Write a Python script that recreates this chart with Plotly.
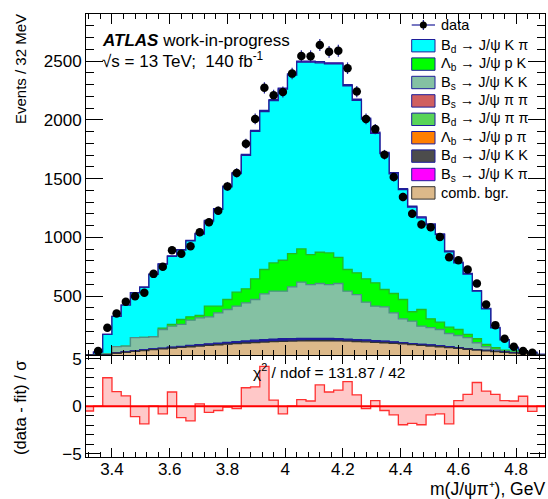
import numpy as np
import plotly.graph_objects as go

# ---- binning: 32 MeV bins ----
BIN_LO = 3.304
BIN_W = 0.032
N_BINS = 50

# ---- data (events per bin) ----
data_counts = [0, 33, 232, 353, 452, 500, 529, 690, 750, 891,
               862, 924, 1043, 1128, 1227, 1434, 1548, 1796, 2008, 2272,
               2209, 2237, 2393, 2542, 2540, 2637, 2578, 2588, 2439, 2240,
               2008, 1921, 1703, 1514, 1344, 1202, 1109, 1086, 1004, 831,
               806, 727, 608, 430, 254, 138, 70, 33, 20, 0]

# ---- fit components (events per bin), stacked bottom -> top ----
comb_bgr = [0, 0, 0, 15, 22, 30, 38, 45, 52, 58,
            64, 70, 76, 82, 87, 92, 97, 102, 106, 110,
            113, 116, 118, 120, 121, 121, 121, 120, 118, 115,
            112, 108, 104, 99, 94, 88, 82, 76, 70, 63,
            56, 49, 42, 35, 28, 22, 16, 11, 6, 0]
bd_kk = [0, 0, 0, 1, 1, 1, 2, 2, 2, 3, 3, 3, 4, 4, 4, 5, 5, 5, 6, 6,
         6, 6, 7, 7, 7, 7, 7, 7, 6, 6, 6, 6, 5, 5, 5, 4, 4, 4, 3, 3,
         3, 2, 2, 2, 1, 1, 1, 0, 0, 0]
lb_ppi = [0, 0, 0, 0, 1, 1, 1, 1, 1, 1, 2, 2, 2, 2, 2, 2, 3, 3, 3, 3,
          3, 4, 4, 4, 4, 4, 4, 4, 3, 3, 3, 3, 3, 3, 2, 2, 2, 2, 2, 2,
          1, 1, 1, 1, 1, 1, 0, 0, 0, 0]
bd_pipi = [0, 0, 0, 1, 1, 1, 1, 2, 2, 2, 2, 3, 3, 3, 3, 4, 4, 4, 5, 5,
           5, 5, 5, 5, 5, 5, 5, 4, 4, 4, 4, 3, 3, 3, 3, 2, 2, 2, 2, 2,
           1, 1, 1, 1, 1, 0, 0, 0, 0, 0]
bs_pipi = [0, 0, 0, 1, 1, 1, 1, 2, 2, 2, 3, 3, 3, 4, 4, 5, 5, 6, 6, 7,
           7, 7, 6, 6, 5, 5, 4, 4, 3, 3, 3, 2, 2, 2, 2, 1, 1, 1, 1, 1,
           1, 0, 0, 0, 0, 0, 0, 0, 0, 0]
bs_kk = [0, 0, 10, 53, 49, 113, 107, 103, 158, 179,
         186, 215, 228, 230, 259, 279, 301, 324, 346, 389,
         409, 405, 440, 477, 457, 466, 458, 469, 409, 383,
         321, 293, 293, 247, 202, 191, 154, 147, 139, 112,
         104, 94, 58, 31, 17, 9, 8, 7, 4, 3]
lb_pk = [0, 0, 0, 0, 0, 0, 0, 0, 11, 15,
         42, 29, 20, 90, 56, 85, 119, 119, 176, 207,
         240, 263, 282, 283, 255, 266, 269, 223, 184, 185,
         199, 199, 147, 164, 164, 80, 142, 76, 62, 54,
         51, 28, 34, 20, 14, 9, 8, 4, 2, 1]
bd_kpi = [3, 25, 165, 257, 349, 381, 426, 530, 544, 578,
          591, 645, 693, 724, 824, 957, 1009, 1134, 1254, 1344,
          1380, 1455, 1518, 1588, 1636, 1611, 1607, 1644, 1563, 1466,
          1358, 1272, 1156, 1018, 935, 889, 780, 799, 744, 641,
          567, 512, 405, 303, 169, 87, 31, 4, 10, 1]
bs_kpi = [0, 0, 0, 1, 1, 2, 2, 3, 3, 4, 4, 5, 5, 6, 6, 7, 7, 8, 8, 9,
          9, 9, 10, 10, 10, 10, 10, 10, 10, 10, 9, 9, 9, 9, 8, 8, 8, 8, 7, 7,
          6, 6, 5, 4, 3, 2, 1, 1, 0, 0]

# ---- (data - fit) / sigma per bin ----
pulls = [-0.5, 0.0, 3.0, 1.55, 1.1, -1.1, -1.85, 0.0, -0.8, 1.5,
         -1.2, -1.55, 0.25, -0.65, -0.45, -0.1, -0.25, 1.95, 2.05, 4.2,
         0.65, -0.8, 0.0, 0.7, 0.55, 2.25, 1.5, 1.7, 2.6, 1.2,
         -0.25, 0.6, -0.45, -0.9, -1.95, -1.8, -1.95, -0.9, -0.8, -1.85,
         0.6, 1.25, 2.5, 1.6, 1.25, 0.6, 0.55, 1.05, -0.55, 0.0]

X_RANGE = [3.31, 4.90]
Y_RANGE = [0, 2900]
PULL_RANGE = [-5.35, 5.4]

FONT = "Liberation Sans, Arial, Helvetica, sans-serif"
NAVY = "#1e1e9a"

# (label, values, fill colour, outline colour) from bottom to top of the stack
stack = [
    ("comb. bgr.", comb_bgr, "#dcb98a", "#333333"),
    ("B<sub>d</sub> → J/ψ K K", bd_kk, "#4c4c4c", NAVY),
    ("Λ<sub>b</sub> → J/ψ p π", lb_ppi, "#ff7f00", NAVY),
    ("B<sub>d</sub> → J/ψ π π", bd_pipi, "#58d458", NAVY),
    ("B<sub>s</sub> → J/ψ π π", bs_pipi, "#d05f5f", NAVY),
    ("B<sub>s</sub> → J/ψ K K", bs_kk, "#84c1a3", "#4f8f86"),
    ("Λ<sub>b</sub> → J/ψ p K", lb_pk, "#00ff00", "#22bb22"),
    ("B<sub>d</sub> → J/ψ K π", bd_kpi, "#00ffff", NAVY),
    ("B<sub>s</sub> → J/ψ K π", bs_kpi, "#ff00ff", NAVY),
]
legend_order = [
    "B<sub>d</sub> → J/ψ K π", "Λ<sub>b</sub> → J/ψ p K", "B<sub>s</sub> → J/ψ K K",
    "B<sub>s</sub> → J/ψ π π", "B<sub>d</sub> → J/ψ π π", "Λ<sub>b</sub> → J/ψ p π",
    "B<sub>d</sub> → J/ψ K K", "B<sub>s</sub> → J/ψ K π", "comb. bgr.",
]

edges = BIN_LO + BIN_W * np.arange(N_BINS + 1)
centers = 0.5 * (edges[:-1] + edges[1:])

fig = go.Figure()

# cumulative levels, drawn from the top of the stack downwards
levels = []
cum = np.zeros(N_BINS)
for label, vals, fc, lc in stack:
    cum = cum + np.asarray(vals, dtype=float)
    levels.append((cum.copy(), fc, lc))

for lev, fc, lc in reversed(levels):
    fig.add_trace(go.Scatter(
        x=edges, y=np.append(lev, lev[-1]), mode="lines",
        line=dict(shape="hv", color=lc, width=1.3),
        fill="tozeroy", fillcolor=fc,
        xaxis="x2", yaxis="y2", hoverinfo="skip", showlegend=False))

# data points with Poisson errors
d = np.asarray(data_counts, dtype=float)
mask = d > 0
fig.add_trace(go.Scatter(
    x=centers[mask], y=d[mask], mode="markers",
    marker=dict(color="black", size=8.5),
    error_y=dict(type="data", array=np.sqrt(d[mask]), color=NAVY,
                 thickness=1.2, width=0),
    xaxis="x2", yaxis="y2", showlegend=False))

# pull histogram
p = np.asarray(pulls, dtype=float)
fig.add_trace(go.Scatter(
    x=edges, y=np.append(p, p[-1]), mode="lines",
    line=dict(shape="hv", color="#ff3030", width=1.3),
    fill="tozeroy", fillcolor="rgba(255,190,190,0.85)",
    xaxis="x", yaxis="y", hoverinfo="skip", showlegend=False))
fig.add_shape(type="line", xref="x domain", yref="y", x0=0, x1=1, y0=0, y1=0,
              line=dict(color="#ff0000", width=2))

# ---- geometry helpers (pixels -> paper) ----
W, H = 548, 499
ML, MR, MT, MB = 86, 3, 14, 42
PW, PH = W - ML - MR, H - MT - MB
split = (457 - 355) / PH


def fx(px):
    return (px - ML) / PW


def fy(py):
    return (H - MB - py) / PH


axis_common = dict(showline=True, linecolor="black", linewidth=1, mirror="allticks",
                   ticks="inside", showgrid=False, zeroline=False,
                   tickfont=dict(family=FONT, size=17, color="black"),
                   tickcolor="black")

fig.update_layout(
    width=W, height=H, margin=dict(l=ML, r=MR, t=MT, b=MB),
    paper_bgcolor="white", plot_bgcolor="white",
    font=dict(family=FONT, color="black"),
    showlegend=False,
    xaxis=dict(domain=[0, 1], anchor="y", range=X_RANGE, tick0=3.4, dtick=0.2,
               ticklen=9, ticklabelstandoff=-3,
               minor=dict(ticks="inside", dtick=0.04, tick0=3.4, ticklen=5,
                          tickcolor="black"),
               **axis_common),
    xaxis2=dict(domain=[0, 1], anchor="y2", range=X_RANGE, tick0=3.4, dtick=0.2,
                matches="x", showticklabels=False,
                ticklen=10, minor=dict(ticks="inside", dtick=0.04, tick0=3.4, ticklen=5,
                                       tickcolor="black"),
                **axis_common),
    yaxis=dict(domain=[0, split], anchor="x", range=PULL_RANGE,
               tickmode="array", tickvals=[-5, 0, 5], ticktext=["−5", "0", "5"],
               ticklen=15, minor=dict(ticks="inside", tickmode="linear", tick0=0, dtick=1,
                                      ticklen=8, tickcolor="black"),
               **axis_common),
    yaxis2=dict(domain=[split, 1], anchor="x2", range=Y_RANGE,
                tickmode="array", tickvals=[0, 500, 1000, 1500, 2000, 2500],
                ticktext=["", "500", "1000", "1500", "2000", "2500"],
                ticklen=17, minor=dict(ticks="inside", tickmode="linear", tick0=0, dtick=100,
                                       ticklen=8, tickcolor="black"),
                **axis_common),
)

ann = []
# axis titles
ann.append(dict(text="Events / 32 MeV", x=fx(20), y=fy(12), xref="paper", yref="paper",
                textangle=-90, xanchor="center", yanchor="top", showarrow=False,
                font=dict(size=15)))
ann.append(dict(text="(data - fit) / σ", x=fx(20), y=fy(408), xref="paper", yref="paper",
                textangle=-90, xanchor="center", yanchor="middle", showarrow=False,
                font=dict(size=16.5)))
ann.append(dict(text="m(J/ψπ⁺), GeV", x=fx(546), y=fy(489.5), xref="paper",
                yref="paper", xanchor="right", yanchor="middle", showarrow=False,
                borderpad=0, font=dict(size=17.5)))
# labels
ann.append(dict(text="<b><i>ATLAS</i></b> work-in-progress", x=fx(100), y=fy(40),
                xref="paper", yref="paper", xanchor="left", yanchor="middle",
                showarrow=False, font=dict(size=17)))
ann.append(dict(text="√s = 13 TeV;  140 fb<sup>-1</sup>", x=fx(100), y=fy(60),
                xref="paper", yref="paper", xanchor="left", yanchor="middle",
                showarrow=False, font=dict(size=17)))
ann.append(dict(text="χ<sup>2</sup> / ndof = 131.87 / 42", x=fx(329), y=fy(371),
                xref="paper", yref="paper", xanchor="center", yanchor="middle",
                showarrow=False, font=dict(size=15.5)))

# legend (drawn by hand in the upper right corner)
shapes = []
BX0, BX1, TX = 411.7, 435.0, 439.3
row0, drow = 25.0, 18.4
ann.append(dict(text="data", x=fx(TX), y=fy(row0), xref="paper", yref="paper",
                xanchor="left", yanchor="middle", showarrow=False, font=dict(size=14.5)))
shapes.append(dict(type="line", xref="paper", yref="paper", x0=fx(BX0), x1=fx(BX1),
                   y0=fy(row0), y1=fy(row0), line=dict(color=NAVY, width=1.2)))
xc = 0.5 * (BX0 + BX1)
shapes.append(dict(type="line", xref="paper", yref="paper", x0=fx(xc), x1=fx(xc),
                   y0=fy(row0 - 5), y1=fy(row0 + 5), line=dict(color=NAVY, width=1.2)))
shapes.append(dict(type="circle", xref="paper", yref="paper", x0=fx(xc - 3.5), x1=fx(xc + 3.5),
                   y0=fy(row0 - 3.5), y1=fy(row0 + 3.5), fillcolor="black",
                   line=dict(color="black", width=0)))
style = {lab: (fc, lc) for lab, _, fc, lc in stack}
for i, lab in enumerate(legend_order):
    yc = row0 + drow * (i + 1) + 2.3
    fc, _ = style[lab]
    border = "#333333" if lab == "comb. bgr." else NAVY
    shapes.append(dict(type="rect", xref="paper", yref="paper", x0=fx(BX0), x1=fx(BX1),
                       y0=fy(yc - 6.2), y1=fy(yc + 6.2), fillcolor=fc,
                       line=dict(color=border, width=1)))
    ann.append(dict(text=lab, x=fx(TX), y=fy(yc), xref="paper", yref="paper",
                    xanchor="left", yanchor="middle", showarrow=False,
                    font=dict(size=14.5)))

fig.update_layout(annotations=ann, shapes=fig.layout.shapes + tuple(shapes))

fig.write_html("out.html")
